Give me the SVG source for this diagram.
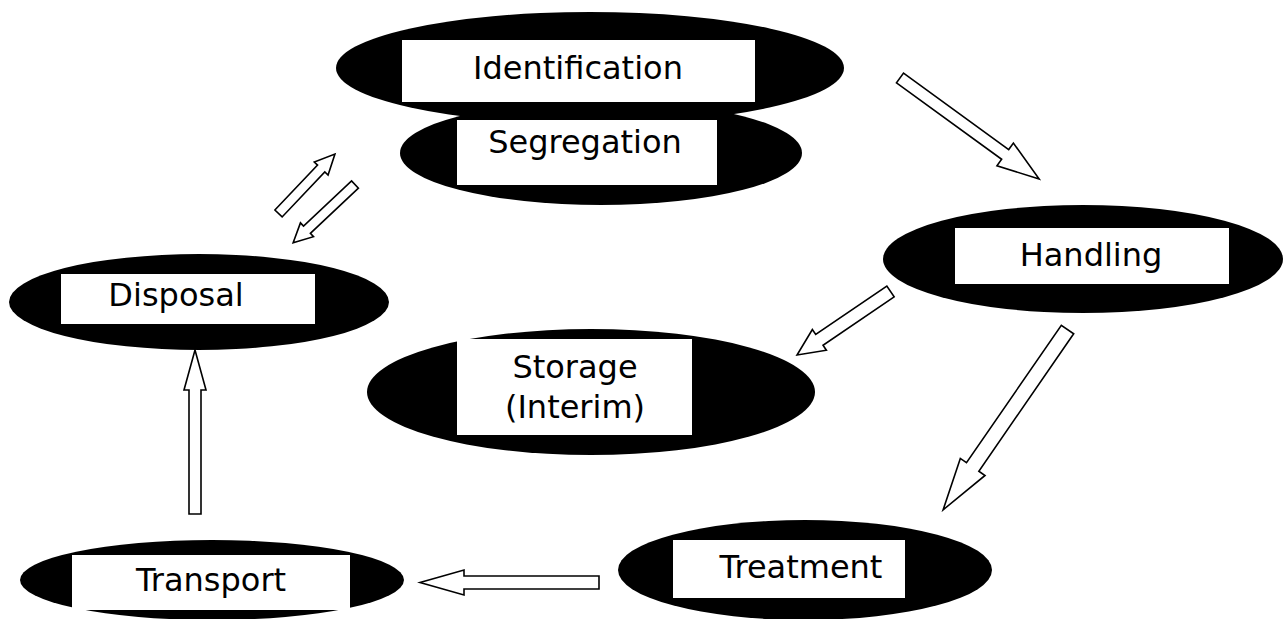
<svg xmlns="http://www.w3.org/2000/svg" width="1283" height="619" viewBox="0 0 1283 619">
<style>
.ell{fill:#000}
.box{fill:#fff}
.lbl{font-family:"DejaVu Sans",Verdana,"Liberation Sans",sans-serif;font-size:32px;fill:#000;text-anchor:middle}
.arr{fill:#fff;stroke:#000;stroke-width:1.6;stroke-linejoin:miter}
</style>
<rect width="1283" height="619" fill="#fff"/>
<g id="identification">
<ellipse class="ell" cx="590" cy="68" rx="254" ry="56"/>
</g>
<g id="segregation">
<ellipse class="ell" cx="601" cy="153" rx="201" ry="52"/>
<rect class="box" x="457" y="120" width="260" height="65"/>
<text class="lbl" x="585" y="153">Segregation</text>
</g>
<g id="identification-label">
<rect class="box" x="402" y="40" width="353" height="62"/>
<text class="lbl" x="578" y="79">Identification</text>
</g>
<g id="handling">
<ellipse class="ell" cx="1083" cy="259" rx="200" ry="54"/>
<rect class="box" x="955" y="228" width="274" height="56"/>
<text class="lbl" x="1091" y="266">Handling</text>
</g>
<g id="disposal">
<ellipse class="ell" cx="199" cy="302" rx="190" ry="48"/>
<rect class="box" x="61" y="274" width="254" height="50"/>
<text class="lbl" x="176" y="306">Disposal</text>
</g>
<g id="storage">
<ellipse class="ell" cx="591" cy="392" rx="224" ry="63"/>
<rect class="box" x="457" y="339" width="235" height="96"/>
<text class="lbl" x="575" y="378">Storage</text>
<text class="lbl" x="575" y="418">(Interim)</text>
</g>
<g id="transport">
<ellipse class="ell" cx="212" cy="580" rx="192" ry="40"/>
<rect class="box" x="72" y="555" width="278" height="55"/>
<text class="lbl" x="211" y="591">Transport</text>
</g>
<g id="treatment">
<ellipse class="ell" cx="805" cy="570" rx="187" ry="50"/>
<rect class="box" x="673" y="540" width="232" height="58"/>
<text class="lbl" x="801" y="578">Treatment</text>
</g>
<g id="connectors">
<path class="arr" transform="translate(900,78) rotate(36)" d="M0,-6 L130,-6 L130,-14 L172,0 L130,14 L130,6 L0,6 Z"/>
<path class="arr" transform="translate(278.5,213.5) rotate(-46.5)" d="M0,-5 L62,-5 L62,-9.5 L82,0 L62,9.5 L62,5 L0,5 Z"/>
<path class="arr" transform="translate(355,184.5) rotate(136.7)" d="M0,-5 L66,-5 L66,-9.5 L85,0 L66,9.5 L66,5 L0,5 Z"/>
<path class="arr" transform="translate(890.5,291.5) rotate(145.8)" d="M0,-6.5 L86,-6.5 L86,-12.5 L113,0 L86,12.5 L86,6.5 L0,6.5 Z"/>
<path class="arr" transform="translate(1067.5,329.5) rotate(124.6)" d="M0,-7.5 L167,-7.5 L167,-15 L219,0 L167,15 L167,7.5 L0,7.5 Z"/>
<path class="arr" transform="translate(599,582.5) rotate(180)" d="M0,-6.5 L135,-6.5 L135,-12.5 L179,0 L135,12.5 L135,6.5 L0,6.5 Z"/>
<path class="arr" transform="translate(195,514) rotate(-90)" d="M0,-6 L124,-6 L124,-11 L164,0 L124,11 L124,6 L0,6 Z"/>
</g>
</svg>
